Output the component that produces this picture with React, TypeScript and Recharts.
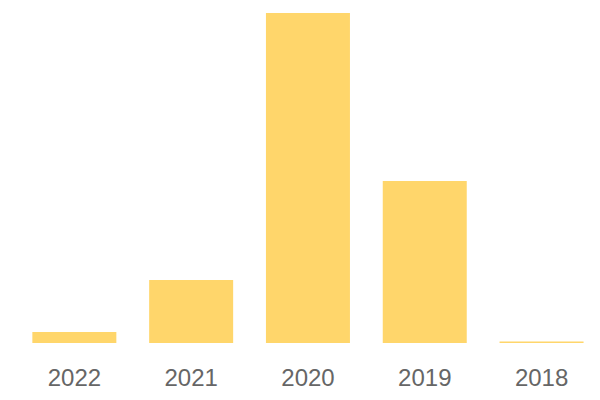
import { Bar, BarChart, XAxis, YAxis } from 'recharts';

const years = ['2022', '2021', '2020', '2019', '2018'];
const counts = [11, 63, 330, 162, 1.5];

const data = years.map((year, i) => ({ year, count: counts[i] }));

export default function App() {
  return (
    <BarChart
      width={592}
      height={392}
      data={data}
      margin={{ top: 5, right: 0, left: 8, bottom: 0 }}
      barCategoryGap="14%"
    >
      <XAxis
        dataKey="year"
        axisLine={false}
        tickLine={false}
        height={57}
        tickMargin={20}
        tick={{ fill: '#666666', fontSize: 24, fontFamily: 'Liberation Sans, Arial, sans-serif' }}
      />
      <YAxis hide domain={[0, 'dataMax']} />
      <Bar dataKey="count" fill="#FFD66B" isAnimationActive={false} />
    </BarChart>
  );
}
